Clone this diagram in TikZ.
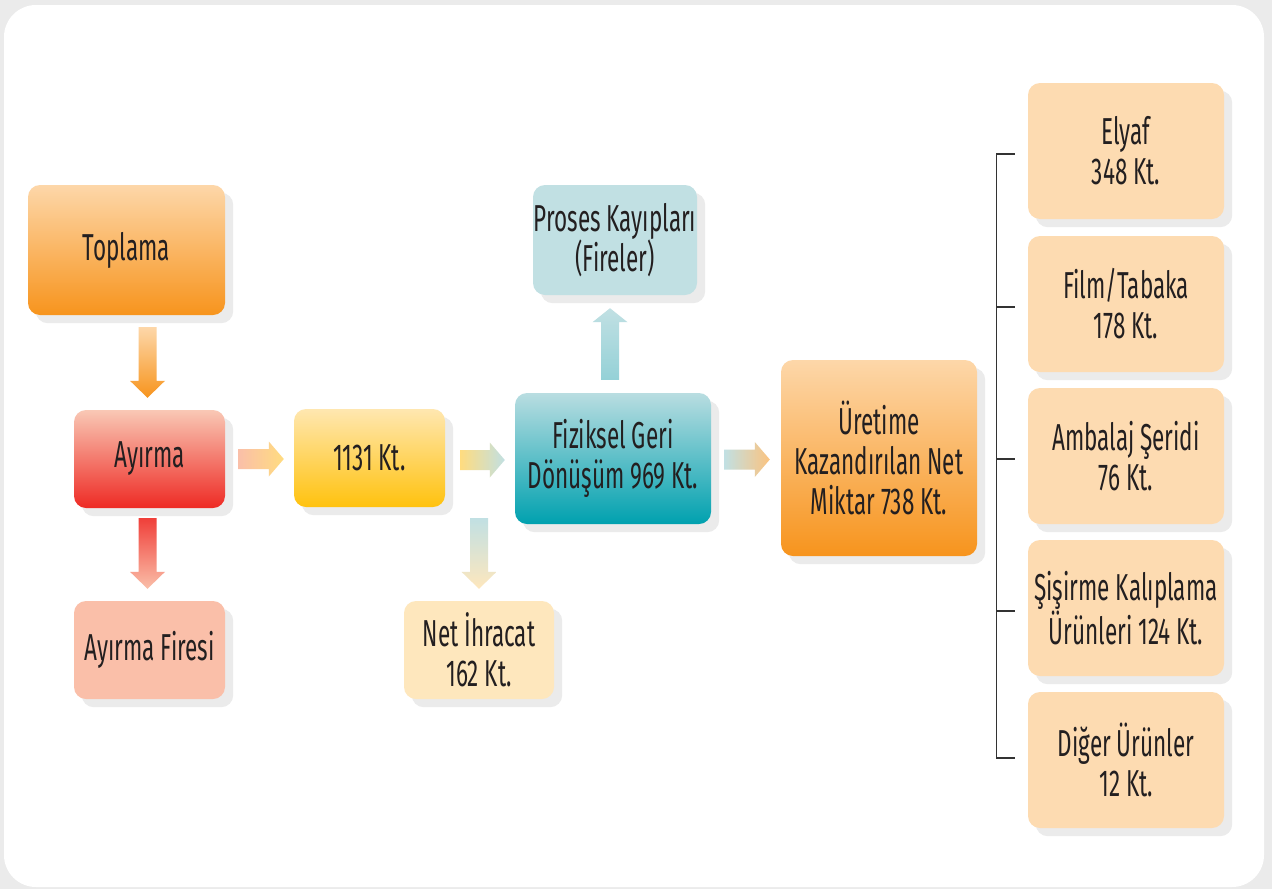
\documentclass[tikz,border=0pt]{standalone}
\usepackage{fontspec}
\setmainfont{Fira Sans}[FakeStretch=0.6]
\usetikzlibrary{calc,backgrounds}
\definecolor{txt}{HTML}{231F20}
\definecolor{bggray}{HTML}{EBEBEB}
\definecolor{shgray}{HTML}{EBEBEB}
\definecolor{orL}{HTML}{FDD7A9}
\definecolor{orD}{HTML}{F7941D}
\definecolor{redL}{HTML}{F9C8B5}
\definecolor{redD}{HTML}{EE2A24}
\definecolor{pinkF}{HTML}{FABFA9}
\definecolor{yelL}{HTML}{FFE7B0}
\definecolor{yelD}{HTML}{FFC20E}
\definecolor{beige}{HTML}{FEE7BD}
\definecolor{tealL}{HTML}{B9DDE1}
\definecolor{tealD}{HTML}{00A1AF}
\definecolor{tealP}{HTML}{C1E0E3}
\definecolor{peach}{HTML}{FDDBB1}
\definecolor{brk}{HTML}{333333}
\tikzset{
  box/.style={rounded corners=12pt, align=center, inner sep=0pt, text=txt,
    font=\fontsize{37.5}{40}\selectfont},
  bracketline/.style={draw=brk, line width=1.2pt},
}
\newcommand\darr[4]{\shade[top color=#3,bottom color=#4] let \p1=(#1),\p2=(#2) in
  (\x1-9pt,\y1) -- (\x1+9pt,\y1) -- (\x1+9pt,\y2+17pt) -- (\x1+17.5pt,\y2+17pt) -- (\x1,\y2)
  -- (\x1-17.5pt,\y2+17pt) -- (\x1-9pt,\y2+17pt) -- cycle;}
\newcommand\uarr[4]{\shade[bottom color=#3,top color=#4] let \p1=(#1),\p2=(#2) in
  (\x1-9pt,\y1) -- (\x1+9pt,\y1) -- (\x1+9pt,\y2-14pt) -- (\x1+17.5pt,\y2-14pt) -- (\x1,\y2)
  -- (\x1-17.5pt,\y2-14pt) -- (\x1-9pt,\y2-14pt) -- cycle;}
\newcommand\rarr[4]{\shade[left color=#3,right color=#4] let \p1=(#1),\p2=(#2) in
  (\x1,\y1+10pt) -- (\x2-15pt,\y1+10pt) -- (\x2-15pt,\y1+17.5pt) -- (\x2,\y1)
  -- (\x2-15pt,\y1-17.5pt) -- (\x2-15pt,\y1-10pt) -- (\x1,\y1-10pt) -- cycle;}
\begin{document}
\begin{tikzpicture}[x=1pt,y=1pt]
\useasboundingbox (0,0) rectangle (1272,-889);
% nodes
\node[box, minimum width=197pt, minimum height=130pt, top color=orL, bottom color=orD] (toplama) at (126.5,-250) {Toplama};
\node[box, minimum width=151pt, minimum height=98pt, top color=redL, bottom color=redD] (ayirma) at (149.5,-459) {Ayırma};
\node[box, minimum width=151pt, minimum height=98pt, fill=pinkF] (firesi) at (149.5,-650) {Ayırma Firesi};
\node[box, minimum width=151pt, minimum height=98pt, top color=yelL, bottom color=yelD] (k1131) at (369.5,-458) {1131 Kt.};
\node[box, minimum width=150pt, minimum height=98pt, fill=beige] (ihracat) at (479,-650) {Net İhracat\\162 Kt.};
\node[box, minimum width=196pt, minimum height=131pt, top color=tealL, bottom color=tealD] (fiziksel) at (613,-458.5) {Fiziksel Geri\\Dönüşüm 969 Kt.};
\node[box, minimum width=164pt, minimum height=110pt, fill=tealP] (proses) at (615,-240) {Proses Kayıpları\\(Fireler)};
\node[box, minimum width=196pt, minimum height=196pt, top color=orL, bottom color=orD] (uretime) at (879,-458) {Üretime\\Kazandırılan Net\\Miktar 738 Kt.};
\node[box, minimum width=196pt, minimum height=136pt, fill=peach] (elyaf) at (1126,-151) {Elyaf\\348 Kt.};
\node[box, minimum width=196pt, minimum height=136pt, fill=peach] (film) at (1126,-304) {Film/Tabaka\\178 Kt.};
\node[box, minimum width=196pt, minimum height=136pt, fill=peach] (ambalaj) at (1126,-456) {Ambalaj Şeridi\\76 Kt.};
\node[box, minimum width=196pt, minimum height=136pt, fill=peach] (sisirme) at (1126,-608) {Şişirme Kalıplama\\Ürünleri 124 Kt.};
\node[box, minimum width=196pt, minimum height=136pt, fill=peach] (diger) at (1126,-760) {Diğer Ürünler\\12 Kt.};
% background, panel and shadows
\begin{pgfonlayer}{background}
\fill[bggray] (0,0) rectangle (1272,-889);
\fill[white, rounded corners=32pt] (4,-5) rectangle (1264,-887);
\foreach \n in {toplama,ayirma,firesi,k1131,ihracat,fiziksel,proses,uretime,elyaf,film,ambalaj,sisirme,diger}
  \fill[shgray, rounded corners=12pt] ([shift={(8pt,-8pt)}]\n.south west) rectangle ([shift={(8pt,-8pt)}]\n.north east);
\end{pgfonlayer}
% arrows
\coordinate (a1s) at ($(ayirma.north |- toplama.south)+(-2,-12)$);
\coordinate (a1e) at ($(ayirma.north)+(-2,12)$);
\darr{a1s}{a1e}{orL}{orD}
\coordinate (a2s) at ($(ayirma.south)+(-2,-10)$);
\coordinate (a2e) at ($(firesi.north)+(-2,12)$);
\darr{a2s}{a2e}{redD!90!white}{pinkF}
\coordinate (a3s) at ($(ayirma.east)+(13,0)$);
\coordinate (a3e) at ($(k1131.west)+(-10,0)$);
\rarr{a3s}{a3e}{pinkF}{yelL!70!yelD}
\coordinate (a4s) at ($(k1131.east)+(15,-2)$);
\coordinate (a4e) at ($(fiziksel.west)+(-10,-2)$);
\rarr{a4s}{a4e}{yelL!70!yelD}{tealP}
\coordinate (a5s) at ($(ihracat.north |- k1131.south)+(0,-11)$);
\coordinate (a5e) at ($(ihracat.north)+(0,12)$);
\darr{a5s}{a5e}{tealP}{beige}
\coordinate (a6s) at ($(fiziksel.north)+(-3,13)$);
\coordinate (a6e) at ($(proses.south)+(-5,-13)$);
\uarr{a6s}{a6e}{tealL!80!tealD}{tealP}
\coordinate (a7s) at ($(fiziksel.east)+(13,-1)$);
\coordinate (a7e) at ($(uretime.west)+(-11,-1)$);
\rarr{a7s}{a7e}{tealP}{orL!70!orD}
% bracket
\draw[bracketline] ($(elyaf.west)+(-13,-3)$) -- ++(-18,0) |- ($(diger.west)+(-13,2)$);
\foreach \n in {film,ambalaj,sisirme}
  \draw[bracketline] ($(\n.west)+(-13,-3)$) -- ++(-18,0);
\end{tikzpicture}
\end{document}
